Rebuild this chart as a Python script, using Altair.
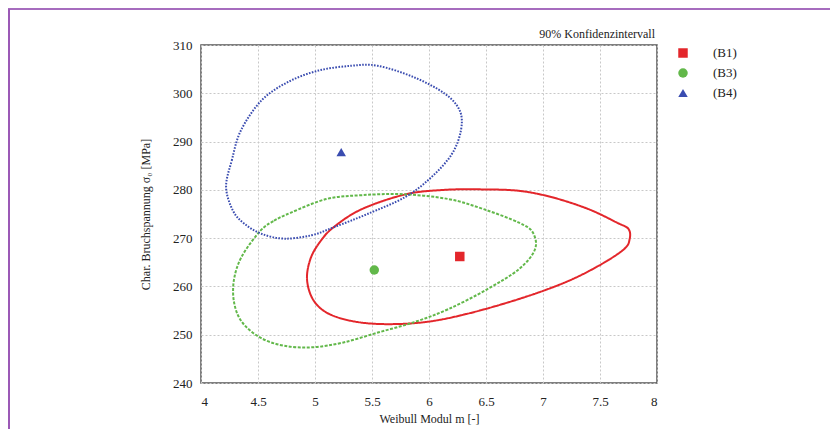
import altair as alt
import pandas as pd

# --- data ---
series_names = ["(B1)", "(B3)", "(B4)"]
series_colors = ["#e3262b", "#62b84a", "#3a4cb0"]
series_shapes = ["square", "circle", "triangle-up"]
series_dash = [[1, 0], [3, 1.5], [1.6, 1.4]]

center_m = [6.27, 5.52, 5.23]
center_s = [266.2, 263.4, 287.8]

b1_m = [5.16, 5.41, 5.80, 6.14, 6.45, 6.79, 7.09, 7.40, 7.65, 7.75, 7.76, 7.71, 7.49, 7.19, 6.79, 6.33,
        5.96, 5.59, 5.31, 5.10, 4.98, 4.93, 4.96, 5.04]
b1_s = [272.2, 276.0, 279.1, 280.0, 280.1, 279.8, 278.4, 276.0, 273.2, 271.9, 269.8, 267.7, 264.3, 260.8,
        257.4, 254.3, 252.6, 252.2, 252.9, 254.6, 257.4, 261.5, 265.7, 269.1]

b3_m = [4.52, 4.64, 4.79, 5.10, 5.41, 5.77, 6.17, 6.48, 6.79, 6.91, 6.93, 6.79, 6.51, 6.17, 5.87, 5.56,
        5.25, 4.98, 4.73, 4.52, 4.36, 4.29, 4.29, 4.36]
b3_s = [271.5, 273.6, 275.3, 278.1, 278.9, 279.1, 278.1, 276.0, 273.2, 271.2, 267.7, 263.6, 259.4, 255.3,
        252.6, 250.5, 248.4, 247.4, 247.7, 249.4, 252.6, 256.7, 261.5, 266.3]

b4_m = [4.22, 4.27, 4.35, 4.53, 4.76, 5.03, 5.32, 5.55, 5.87, 6.14, 6.27, 6.28, 6.20, 6.02, 5.79, 5.46,
        5.17, 4.97, 4.73, 4.53, 4.38, 4.28]
b4_s = [280.6, 286.1, 292.3, 298.5, 302.3, 304.7, 305.7, 305.7, 303.3, 299.9, 296.4, 292.3, 287.4, 282.6,
        278.5, 275.0, 272.3, 270.6, 269.9, 270.9, 273.0, 275.7]

x_ticks = [4, 4.5, 5, 5.5, 6, 6.5, 7, 7.5, 8]
y_ticks = [240, 250, 260, 270, 280, 290, 300, 310]
title_text = ["90% Konfidenzintervall"]

# --- tables ---
rows = []
for name, ms, ss in zip(series_names, [b1_m, b3_m, b4_m], [b1_s, b3_s, b4_s]):
    for i, (m, s) in enumerate(zip(ms, ss)):
        rows.append({"curve": name, "m": m, "s": s, "i": i})
contours = pd.DataFrame(rows)
centers = pd.DataFrame({"series": series_names, "m": center_m, "s": center_s})
legend_df = pd.DataFrame({"series": series_names})

FONT = "Liberation Serif"
W, H = 456, 338
PAD = {"left": 193, "top": 37, "right": 173, "bottom": 46}

xscale = alt.Scale(domain=[4, 8], nice=False, zero=False)
yscale = alt.Scale(domain=[240, 310], nice=False, zero=False)
color_scale = alt.Scale(domain=series_names, range=series_colors)
shape_scale = alt.Scale(domain=series_names, range=series_shapes)
legend_y = alt.Scale(domain=series_names, range=[8, 48], padding=0)

xaxis = alt.Axis(values=x_ticks, format="~g", title="Weibull Modul m [-]", ticks=False,
                 labelPadding=12, titlePadding=5, grid=True)
yaxis = alt.Axis(values=y_ticks, title="Char. Bruchspannung σ₀ [MPa]", ticks=False,
                 labelPadding=9, titlePadding=20, grid=True)

lines = alt.Chart(contours).mark_line(interpolate="cardinal-closed", strokeWidth=2).encode(
    x=alt.X("m:Q", scale=xscale, axis=xaxis),
    y=alt.Y("s:Q", scale=yscale, axis=yaxis),
    stroke=alt.Stroke("curve:N", scale=color_scale, legend=None),
    strokeDash=alt.StrokeDash("curve:N", scale=alt.Scale(domain=series_names, range=series_dash), legend=None),
    detail="curve:N",
    order="i:Q",
)

points = alt.Chart(centers).mark_point(filled=True, size=90, opacity=1).encode(
    x=alt.X("m:Q", scale=xscale),
    y=alt.Y("s:Q", scale=yscale, axis=None),
    color=alt.Color("series:N", scale=color_scale, legend=None),
    shape=alt.Shape("series:N", scale=shape_scale, legend=None),
)

# legend drawn as marks (symbols + labels) at the right of the plot
legend_sym = alt.Chart(legend_df).mark_point(filled=True, size=90, opacity=1).encode(
    x=alt.value(482),
    y=alt.Y("series:N", scale=legend_y, axis=None),
    color=alt.Color("series:N", scale=color_scale, legend=None),
    shape=alt.Shape("series:N", scale=shape_scale, legend=None),
)
legend_txt = alt.Chart(legend_df).mark_text(
    font=FONT, fontSize=13, color="#222", align="left", baseline="middle"
).encode(
    x=alt.value(512),
    y=alt.Y("series:N", scale=legend_y, axis=None),
    text="series:N",
)

title_layer = alt.Chart(pd.DataFrame({"t": title_text})).mark_text(
    font=FONT, fontSize=12, color="#222", align="right", baseline="bottom"
).encode(text="t:N", x=alt.value(W - 2), y=alt.value(-4))

border = alt.Chart(pd.DataFrame({"k": [0]})).mark_rule(color="#a66cbe", strokeWidth=2).encode(
    x=alt.value(-193), x2=alt.value(629), y=alt.value(-36)
)
border_left = alt.Chart(pd.DataFrame({"k": [0]})).mark_rule(color="#9b59b6", strokeWidth=2).encode(
    x=alt.value(-192), y=alt.value(-36), y2=alt.value(H + 60)
)

chart = alt.layer(lines, points, legend_sym, legend_txt, title_layer, border, border_left).resolve_scale(
    y="independent"
).properties(
    width=W, height=H,
    autosize=alt.AutoSizeParams(type="none"),
    padding=PAD,
    background="white",
).configure_view(stroke="#555", strokeWidth=1.5).configure_axis(
    labelFont=FONT, labelFontSize=13, labelColor="#222", titleFont=FONT, titleFontSize=12,
    titleFontWeight="normal", titleColor="#222", gridColor="#c8c8c8", gridDash=[2, 2],
    gridWidth=1, domain=False
)

chart.save("out.html", embed_options={"renderer": "svg", "actions": False})
